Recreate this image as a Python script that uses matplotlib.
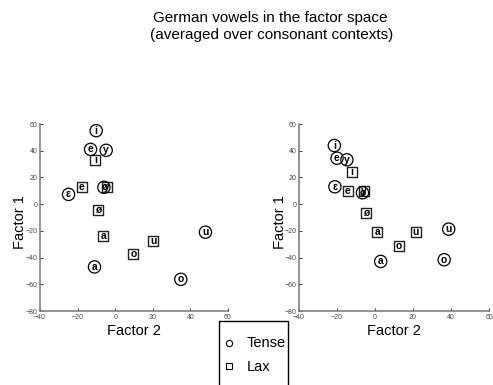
import matplotlib
matplotlib.use("Agg")
import matplotlib.pyplot as plt
from matplotlib.patches import Rectangle
from matplotlib.lines import Line2D

plt.rcParams['font.family'] = ['Liberation Sans', 'DejaVu Sans']

tense_labels = ['i', 'e', 'y', 'ɛ', 'ø', 'a', 'o', 'u']
left_tense_x = [-10.1, -13.1, -4.8, -24.8, -6.0, -11.0, 34.9, 48.0]
left_tense_y = [55.0, 41.0, 40.3, 7.3, 12.6, -47.0, -56.3, -21.0]
right_tense_x = [-21.4, -20.0, -14.8, -21.1, -6.6, 3.0, 36.4, 38.8]
right_tense_y = [43.9, 34.4, 33.2, 13.0, 8.5, -42.9, -41.6, -18.7]

lax_labels = ['i', 'e', 'y', 'ø', 'a', 'u', 'o']
left_lax_x = [-10.6, -17.9, -4.6, -9.2, -6.4, 20.2, 9.7]
left_lax_y = [32.8, 12.6, 13.0, -4.1, -23.9, -27.8, -37.3]
right_lax_x = [-12.3, -14.3, -5.7, -4.5, 1.25, 21.4, 12.7]
right_lax_y = [24.2, 10.0, 10.2, -7.0, -21.2, -20.9, -31.2]

xticks = [-40, -20, 0, 20, 40, 60]
yticks = [-80, -60, -40, -20, 0, 20, 40, 60]

W, H = 493, 385
fig = plt.figure(figsize=(W / 100, H / 100), dpi=100)

def px_axes(x0, y0, x1, y1):
    return fig.add_axes([x0 / W, 1 - y1 / H, (x1 - x0) / W, (y1 - y0) / H])

ax1 = px_axes(40, 124, 228, 311)
ax2 = px_axes(299, 124, 489, 311)

gray = '#808080'

def draw(ax, tx, ty, lx, ly, ylab_x):
    ax.set_xlim(-40, 60)
    ax.set_ylim(-80, 60)
    for s in ['top', 'right']:
        ax.spines[s].set_visible(False)
    for s in ['left', 'bottom']:
        ax.spines[s].set_color(gray)
        ax.spines[s].set_linewidth(1.2)
    ax.set_xticks(xticks)
    ax.set_yticks(yticks)
    ax.tick_params(labelsize=5, labelcolor='#444444', color='#444444', direction='in',
                   length=2, width=0.8, pad=2)
    ax.scatter(lx, ly, marker='s', s=55, facecolors='white', edgecolors='#222222', linewidths=1.0, zorder=2)
    ax.scatter(tx, ty, marker='o', s=78, facecolors='none', edgecolors='black', linewidths=0.9, zorder=3)
    for x, y, t in zip(lx, ly, lax_labels):
        ax.text(x, y, t, ha='center', va='center', fontsize=7.5, fontweight='bold', zorder=4)
    for x, y, t in zip(tx, ty, tense_labels):
        ax.text(x, y, t, ha='center', va='center', fontsize=7.5, fontweight='bold', zorder=4)
    ax.set_xlabel('Factor 2', fontsize=10.5, labelpad=2)
    fig.text(ylab_x / W, 1 - 222 / H, 'Factor 1', rotation=90, ha='center', va='center', fontsize=10.5)

draw(ax1, left_tense_x, left_tense_y, left_lax_x, left_lax_y, 20)
draw(ax2, right_tense_x, right_tense_y, right_lax_x, right_lax_y, 280)

fig.text(270 / W, 1 - 18 / H, 'German vowels in the factor space',
         ha='center', va='center', fontsize=11)
fig.text(272 / W, 1 - 35 / H, '(averaged over consonant contexts)',
         ha='center', va='center', fontsize=11)

# legend box
fig.patches.append(Rectangle((219 / W, 1 - 395 / H), 69 / W, 74 / H, transform=fig.transFigure,
                             facecolor='white', edgecolor='black', linewidth=1.0, zorder=5))
fig.add_artist(Line2D([229 / W], [1 - 343 / H], marker='o', linestyle='none', markerfacecolor='none',
                      markeredgecolor='black', markersize=4.5, markeredgewidth=0.8,
                      transform=fig.transFigure, zorder=6))
fig.add_artist(Line2D([229 / W], [1 - 366 / H], marker='s', linestyle='none', markerfacecolor='none',
                      markeredgecolor='black', markersize=5, markeredgewidth=0.8,
                      transform=fig.transFigure, zorder=6))
fig.text(247 / W, 1 - 343 / H, 'Tense', ha='left', va='center', fontsize=10.5, zorder=7)
fig.text(247 / W, 1 - 367 / H, 'Lax', ha='left', va='center', fontsize=10.5, zorder=7)

fig.savefig('out.png', dpi=100)
